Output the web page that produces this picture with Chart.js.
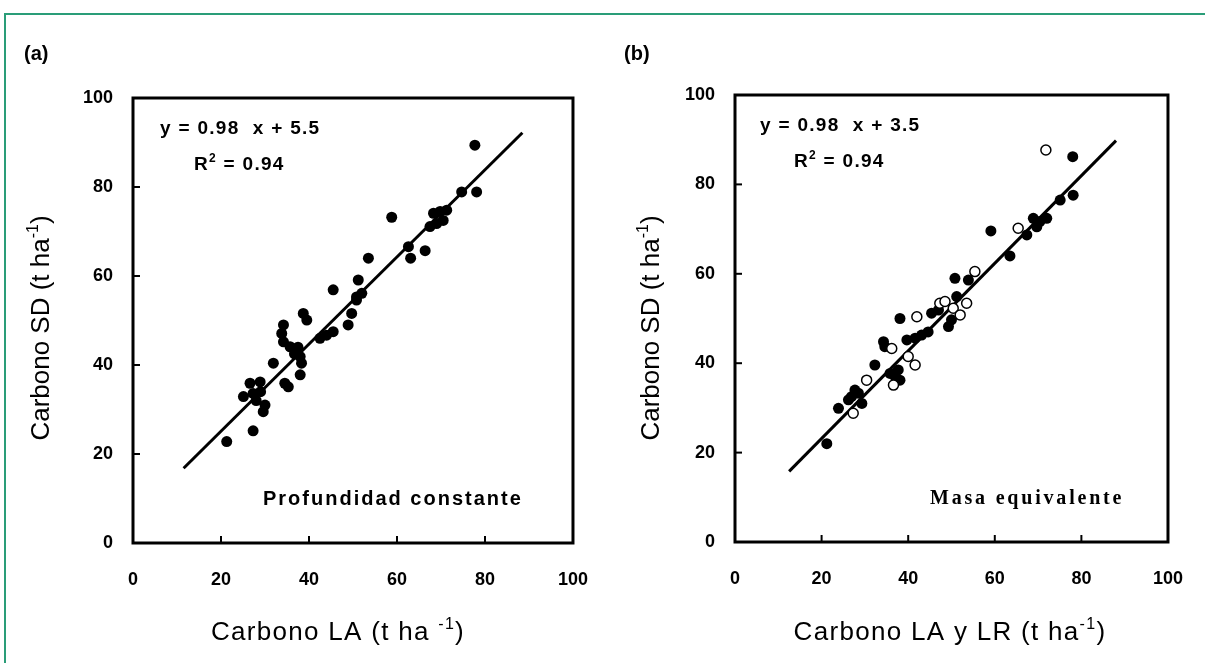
<!DOCTYPE html>
<html>
<head>
<meta charset="utf-8">
<script src="https://cdn.jsdelivr.net/npm/chart.js@4.4.1/dist/chart.umd.min.js"></script>
<style>
  body { margin: 0; background: #fff; width: 1205px; height: 663px; overflow: hidden; position: relative; }
  #frame { position: absolute; left: 4px; top: 13px; width: 1240px; height: 700px; border: 2px solid #2a9d78; }
  #wrapA { position: absolute; left: 0; top: 0; }
  #wrapB { position: absolute; left: 600px; top: 0; }
</style>
</head>
<body>
<div id="frame"></div>
<div id="wrapA"><canvas id="chartA" width="606" height="663"></canvas></div>
<div id="wrapB"><canvas id="chartB" width="601" height="663"></canvas></div>
<script>
// axis ticks (both panels)
const tickValues = [0, 20, 40, 60, 80, 100];

// (a) Profundidad constante : Carbono LA vs Carbono SD
const laA = [21.3, 27.3, 25.1, 26.6, 27.3, 28.0, 28.9, 29.0, 29.6, 30.0, 31.9, 33.8, 34.2, 34.2, 34.5, 35.3, 35.7, 36.7,
  37.5, 38.0, 38.0, 38.3, 38.7, 39.5, 42.5, 44.0, 45.5, 45.5, 48.9, 49.7, 50.8, 50.8, 52.0, 51.2, 53.5, 58.8,
  62.6, 63.1, 66.4, 67.5, 68.3, 69.0, 69.8, 70.5, 71.3, 74.7, 77.7, 78.1];
const sdA = [22.8, 25.2, 32.9, 35.9, 33.6, 32.0, 36.2, 34.0, 29.5, 31.0, 40.4, 47.1, 49.0, 45.2, 35.9, 35.1, 44.1, 42.5,
  44.0, 37.8, 41.9, 40.4, 51.6, 50.1, 46.0, 46.7, 47.5, 56.9, 49.0, 51.6, 54.6, 55.3, 56.1, 59.1, 64.0, 73.2,
  66.6, 64.0, 65.7, 71.1, 74.1, 71.8, 74.5, 72.5, 74.8, 78.9, 89.4, 78.9];
const fitA_x = [11.5, 88.5];
const fitA_y = [16.8, 92.2];

// (b) Masa equivalente : Carbono LA y LR vs Carbono SD (filled and open symbols)
const laB_filled = [21.2, 23.9, 26.2, 26.9, 27.7, 28.5, 29.3, 32.3, 34.3, 34.6, 35.8, 37.0, 37.7, 38.1, 38.1, 39.7, 41.6,
  43.1, 44.6, 45.4, 47.0, 49.3, 50.0, 51.2, 50.8, 53.9, 59.1, 63.5, 67.4, 68.9, 69.7, 70.4, 72.0, 75.1, 78.0, 78.1];
const sdB_filled = [22.0, 29.9, 31.8, 32.5, 34.0, 33.3, 31.0, 39.6, 44.8, 43.7, 37.7, 37.0, 38.5, 36.2, 50.0, 45.2, 45.6,
  46.3, 47.0, 51.2, 51.9, 48.2, 49.7, 54.9, 59.0, 58.6, 69.6, 64.0, 68.7, 72.4, 70.5, 71.7, 72.4, 76.5, 86.2, 77.6];
const laB_open = [27.3, 30.4, 36.2, 36.6, 40.0, 41.6, 42.0, 47.3, 48.5, 50.4, 52.0, 53.5, 55.4, 65.4, 71.8];
const sdB_open = [28.8, 36.2, 43.3, 35.1, 41.5, 39.6, 50.4, 53.4, 53.8, 52.3, 50.8, 53.4, 60.5, 70.2, 87.7];
const fitB_x = [12.5, 88.0];
const fitB_y = [15.8, 89.8];

const pts = (xs, ys) => xs.map((v, i) => ({ x: v, y: ys[i] }));

// text with superscript parts: [[text, isSup], ...]
function richText(ctx, parts, x, y, size, weight) {
  let cx = x;
  parts.forEach(([t, sup]) => {
    const s = sup ? Math.round(size * 0.62) : size;
    ctx.font = `${weight} ${s}px "Liberation Sans", Arial, sans-serif`;
    ctx.fillText(t, cx, sup ? y - size * 0.42 : y);
    cx += ctx.measureText(t).width;
  });
}
function richWidth(ctx, parts, size, weight) {
  let w = 0;
  parts.forEach(([t, sup]) => {
    const s = sup ? Math.round(size * 0.62) : size;
    ctx.font = `${weight} ${s}px "Liberation Sans", Arial, sans-serif`;
    w += ctx.measureText(t).width;
  });
  return w;
}

const decor = {
  id: 'decor',
  afterDraw(chart, args, o) {
    const { ctx, chartArea: a, scales: { x, y } } = chart;
    ctx.save();
    ctx.strokeStyle = '#000';
    ctx.fillStyle = '#000';
    ctx.lineWidth = 2;
    tickValues.forEach(v => {
      if (v <= 0 || v >= 100) return;
      const px = x.getPixelForValue(v);
      ctx.beginPath(); ctx.moveTo(px, a.bottom); ctx.lineTo(px, a.bottom - 7); ctx.stroke();
      const py = y.getPixelForValue(v);
      ctx.beginPath(); ctx.moveTo(a.left, py); ctx.lineTo(a.left + 7, py); ctx.stroke();
    });
    ctx.lineWidth = 3;
    ctx.strokeRect(a.left, a.top, a.right - a.left, a.bottom - a.top);

    // panel letter
    ctx.textBaseline = 'alphabetic';
    ctx.textAlign = 'left';
    ctx.font = 'bold 20px "Liberation Sans", Arial, sans-serif';
    ctx.fillText(o.panel, 24, 60);

    // axis titles
    const tSize = 26;
    ctx.letterSpacing = o.xTitleSpacing;
    const wx = richWidth(ctx, o.xTitle, tSize, 'normal');
    richText(ctx, o.xTitle, o.xTitleX - wx / 2, 640, tSize, 'normal');
    ctx.letterSpacing = '0px';
    const wy = richWidth(ctx, o.yTitle, tSize, 'normal');
    ctx.save();
    ctx.translate(o.yTitleX, 328);
    ctx.rotate(-Math.PI / 2);
    richText(ctx, o.yTitle, -wy / 2, 0, tSize, 'normal');
    ctx.restore();

    // equation
    ctx.letterSpacing = '1.3px';
    richText(ctx, [[o.eq, false]], o.eqX, o.eqY, 19, 'bold');
    richText(ctx, [['R', false], ['2', true], [' = 0.94', false]], o.eqX + 34, o.eqY + 36, 19, 'bold');

    // panel note
    ctx.letterSpacing = o.noteSpacing;
    ctx.font = o.noteFont;
    ctx.fillText(o.note, o.noteX, o.noteY);
    ctx.restore();
  }
};

function axisOpts(axis, fitSize, pad) {
  return {
    type: 'linear', min: 0, max: 100,
    grid: { display: false },
    border: { display: false },
    ticks: {
      stepSize: 20, padding: pad, color: '#000', maxRotation: 0,
      font: { family: '"Liberation Sans", Arial, sans-serif', size: 18, weight: 'bold' }
    },
    afterFit: s => { if (axis === 'x') s.height = fitSize; else s.width = fitSize; }
  };
}

function makeChart(id, datasets, pad, yWidth, deco) {
  return new Chart(document.getElementById(id), {
    type: 'scatter',
    data: { datasets },
    options: {
      responsive: false,
      animation: false,
      layout: { autoPadding: false, padding: pad },
      plugins: { legend: { display: false }, tooltip: { enabled: false }, decor: deco },
      scales: { x: axisOpts('x', 100, 18), y: axisOpts('y', yWidth, 12) }
    },
    plugins: [decor]
  });
}

const filledStyle = { pointRadius: 5.5, pointBackgroundColor: '#000', pointBorderColor: '#000', pointBorderWidth: 0, showLine: false };
const lineStyle = { type: 'line', borderColor: '#000', borderWidth: 3, pointRadius: 0, showLine: true, fill: false };

makeChart('chartA', [
  { ...filledStyle, data: pts(laA, sdA) },
  { ...lineStyle, data: pts(fitA_x, fitA_y) }
], { left: 0, top: 98, right: 12, bottom: 20 }, 133, {
  panel: '(a)',
  xTitle: [['Carbono LA (t ha ', false], ['-1', true], [')', false]], xTitleX: 338, xTitleSpacing: '1.3px',
  yTitle: [['Carbono SD (t ha', false], ['-1', true], [')', false]], yTitleX: 49,
  eq: 'y = 0.98  x + 5.5', eqX: 160, eqY: 134,
  note: 'Profundidad constante', noteX: 263, noteY: 505, noteSpacing: '2px',
  noteFont: 'bold 20px "Liberation Sans", Arial, sans-serif'
});

makeChart('chartB', [
  { pointRadius: 5, pointBackgroundColor: '#fff', pointBorderColor: '#000', pointBorderWidth: 1.5, showLine: false, data: pts(laB_open, sdB_open) },
  { ...filledStyle, data: pts(laB_filled, sdB_filled) },
  { ...lineStyle, data: pts(fitB_x, fitB_y) }
], { left: 0, top: 95, right: 32, bottom: 21 }, 135, {
  panel: '(b)',
  xTitle: [['Carbono LA y LR (t ha', false], ['-1', true], [')', false]], xTitleX: 350, xTitleSpacing: '1.3px',
  yTitle: [['Carbono SD (t ha', false], ['-1', true], [')', false]], yTitleX: 59,
  eq: 'y = 0.98  x + 3.5', eqX: 160, eqY: 131,
  note: 'Masa equivalente', noteX: 330, noteY: 504, noteSpacing: '2.8px',
  noteFont: 'bold 20px "Liberation Serif", "Times New Roman", serif'
});
</script>
</body>
</html>
